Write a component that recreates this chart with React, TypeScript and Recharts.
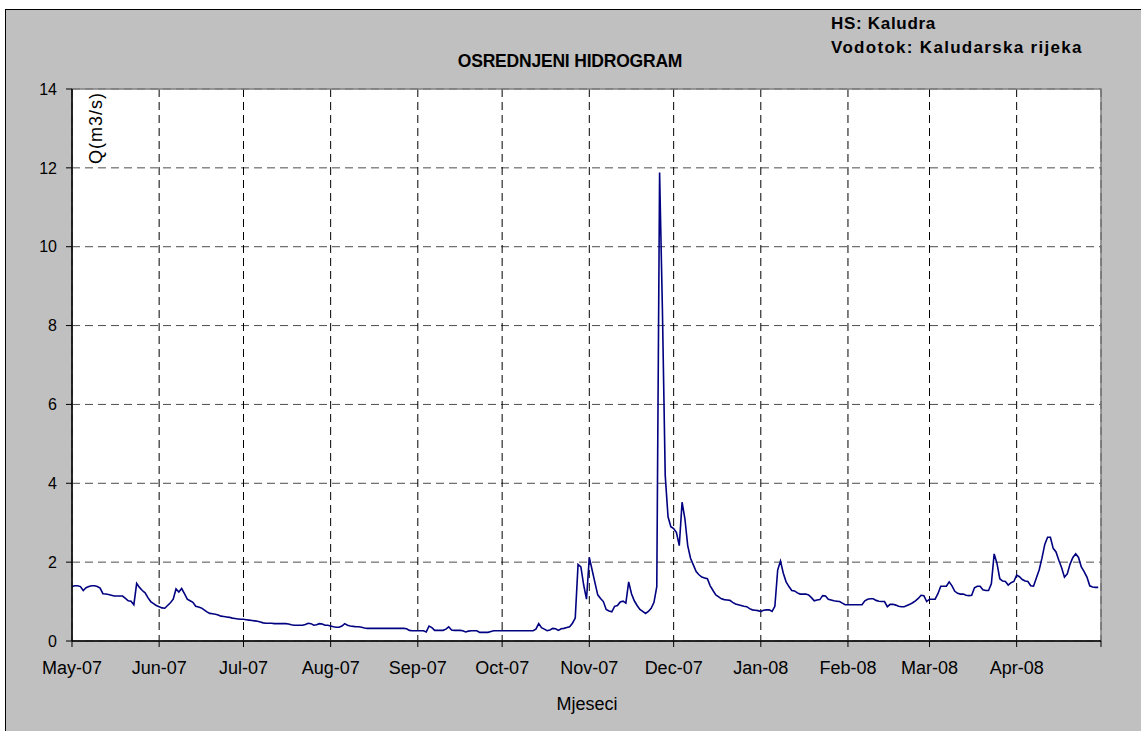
import { CartesianGrid, Line, LineChart, ReferenceArea, XAxis, YAxis } from "recharts";

const may07 = [
  1.38, 1.4, 1.4, 1.38, 1.28, 1.35, 1.38, 1.4, 1.4, 1.38,
  1.34, 1.2, 1.19, 1.18, 1.16, 1.14, 1.14, 1.14, 1.14, 1.08,
  1.02, 1.01, 0.92, 1.46, 1.36, 1.28, 1.22, 1.1, 1.0, 0.95,
  0.9,
];
const jun07 = [
  0.87, 0.84, 0.83, 0.9, 0.97, 1.06, 1.32, 1.24, 1.33, 1.2,
  1.06, 1.02, 0.98, 0.88, 0.86, 0.84, 0.79, 0.74, 0.7, 0.69,
  0.68, 0.66, 0.63, 0.62, 0.61, 0.6, 0.58, 0.57, 0.56, 0.55,
];
const jul07 = [
  0.55, 0.54, 0.53, 0.52, 0.51, 0.5, 0.48, 0.46, 0.45, 0.45,
  0.45, 0.44, 0.44, 0.44, 0.44, 0.44, 0.43, 0.41, 0.4, 0.4,
  0.4, 0.4, 0.42, 0.45, 0.44, 0.4, 0.41, 0.44, 0.43, 0.4,
  0.4,
];
const aug07 = [
  0.38, 0.36, 0.35, 0.35, 0.38, 0.44, 0.4, 0.38, 0.37, 0.36,
  0.36, 0.35, 0.33, 0.32, 0.32, 0.32, 0.32, 0.32, 0.32, 0.32,
  0.32, 0.32, 0.32, 0.32, 0.32, 0.32, 0.32, 0.31, 0.27, 0.26,
  0.26,
];
const sep07 = [
  0.26, 0.26, 0.26, 0.23, 0.38, 0.34, 0.27, 0.27, 0.27, 0.27,
  0.3, 0.36, 0.28, 0.27, 0.27, 0.27, 0.26, 0.23, 0.25, 0.26,
  0.26, 0.26, 0.22, 0.22, 0.22, 0.22, 0.24, 0.26, 0.26, 0.26,
];
const oct07 = [
  0.26, 0.26, 0.26, 0.26, 0.26, 0.26, 0.26, 0.26, 0.26, 0.26,
  0.26, 0.26, 0.3, 0.44, 0.34, 0.3, 0.26, 0.28, 0.32, 0.31,
  0.27, 0.31, 0.32, 0.34, 0.36, 0.45, 0.58, 1.94, 1.88, 1.42,
  1.06,
];
const nov07 = [
  2.12, 1.8, 1.48, 1.17, 1.08, 1.0, 0.8, 0.76, 0.74, 0.88,
  0.9, 0.99, 1.01, 0.96, 1.5, 1.2, 1.02, 0.9, 0.8, 0.75,
  0.7, 0.75, 0.83, 0.98, 1.38, 11.88, 8.4, 4.2, 3.15, 2.9,
];
const dec07 = [
  2.85, 2.75, 2.42, 3.52, 3.1, 2.42, 2.1, 1.93, 1.76, 1.68,
  1.62, 1.6, 1.58, 1.4, 1.28, 1.17, 1.12, 1.07, 1.05, 1.04,
  1.03, 0.98, 0.94, 0.92, 0.9, 0.88, 0.87, 0.82, 0.79, 0.78,
  0.77,
];
const jan08 = [
  0.75, 0.78, 0.79, 0.79, 0.75, 0.88, 1.8, 2.03, 1.72, 1.5,
  1.38, 1.28, 1.27, 1.22, 1.19, 1.19, 1.19, 1.17, 1.1, 1.02,
  1.04, 1.05, 1.15, 1.14, 1.06, 1.04, 1.02, 1.01, 1.0, 0.96,
  0.92,
];
const feb08 = [
  0.92, 0.92, 0.92, 0.92, 0.92, 0.92, 1.02, 1.06, 1.07, 1.07,
  1.03, 1.01, 1.0, 1.0, 0.87, 0.93, 0.93, 0.91, 0.88, 0.87,
  0.87, 0.9, 0.93, 0.97, 1.02, 1.08, 1.16, 1.15, 1.0,
];
const mar08 = [
  1.06, 1.06, 1.06, 1.2, 1.39, 1.39, 1.39, 1.5, 1.4, 1.26,
  1.21, 1.19, 1.19, 1.16, 1.15, 1.16, 1.35, 1.39, 1.39, 1.3,
  1.28, 1.28, 1.45, 2.21, 1.97, 1.58, 1.52, 1.51, 1.42, 1.48,
  1.51,
];
const apr08 = [
  1.67, 1.63, 1.56, 1.52, 1.51, 1.4, 1.39, 1.6, 1.8, 2.1,
  2.45, 2.63, 2.63, 2.35, 2.26, 2.05, 1.86, 1.62, 1.7, 1.95,
  2.12, 2.21, 2.12, 1.88, 1.76, 1.62, 1.4, 1.37, 1.36, 1.36,
];

const months = [may07, jun07, jul07, aug07, sep07, oct07, nov07, dec07, jan08, feb08, mar08, apr08];
const monthLabels = [
  "May-07", "Jun-07", "Jul-07", "Aug-07", "Sep-07", "Oct-07",
  "Nov-07", "Dec-07", "Jan-08", "Feb-08", "Mar-08", "Apr-08",
];
// day index of the first of each month (last one = 1 May 2008, axis end)
const monthStarts = [0, 31, 61, 92, 123, 153, 184, 214, 245, 276, 305, 336, 366];
const qTicks = [0, 2, 4, 6, 8, 10, 12, 14];

const data = months.flat().map((q, day) => ({ day, q }));

const FONT = "'Liberation Sans', Arial, sans-serif";

export default function App() {
  return (
    <div style={{ position: "absolute", left: 0, top: 0, width: 1141, height: 731, background: "#fff", overflow: "hidden" }}>
      <div
        style={{
          position: "absolute",
          left: 5,
          top: 9,
          width: 1140,
          height: 730,
          background: "#c0c0c0",
          borderTop: "1px solid #000",
          borderLeft: "1px solid #000",
        }}
      />
      <div style={{ position: "absolute", left: 0, top: 0 }}>
        <LineChart
          width={1141}
          height={731}
          data={data}
          margin={{ top: 89, right: 40, bottom: 60, left: 0 }}
          style={{ fontFamily: FONT }}
        >
          <CartesianGrid
            horizontal={true}
            vertical={false}
            stroke="#4d4d4d"
            strokeDasharray="8 5"
            fill="#fff"
            fillOpacity={1}
          />
          <CartesianGrid horizontal={false} vertical={true} stroke="#000" strokeDasharray="8 5" />
          <ReferenceArea x1={0} x2={366} y1={0} y2={14} fill="none" stroke="#808080" strokeWidth={1.5} />
          <XAxis
            type="number"
            dataKey="day"
            domain={[0, 366]}
            ticks={monthStarts}
            interval={0}
            height={30}
            axisLine={{ stroke: "#000", strokeWidth: 1.5 }}
            tickLine={{ stroke: "#000" }}
            tickSize={6}
            tickMargin={14}
            tick={{ fill: "#000", fontSize: 18, fontFamily: FONT }}
            tickFormatter={(v: number) => monthLabels[monthStarts.indexOf(v)] ?? ""}
          />
          <YAxis
            type="number"
            domain={[0, 14]}
            ticks={qTicks}
            interval={0}
            width={72}
            axisLine={{ stroke: "#000", strokeWidth: 1.5 }}
            tickLine={{ stroke: "#000" }}
            tickSize={6}
            tickMargin={9}
            tick={{ fill: "#000", fontSize: 16, fontFamily: FONT }}
          />
          <Line
            type="linear"
            dataKey="q"
            stroke="#000080"
            strokeWidth={1.6}
            dot={false}
            activeDot={false}
            isAnimationActive={false}
          />
        </LineChart>
      </div>
      <svg
        width={1141}
        height={731}
        style={{ position: "absolute", left: 0, top: 0, pointerEvents: "none", fontFamily: FONT }}
      >
        <text x={570} y={66.5} textAnchor="middle" fontSize={17.5} fontWeight="bold" letterSpacing={-0.2}>
          OSREDNJENI HIDROGRAM
        </text>
        <text x={831} y={29.3} fontSize={17} fontWeight="bold" letterSpacing={0.7}>
          HS: Kaludra
        </text>
        <text x={831} y={52.7} fontSize={17} fontWeight="bold" letterSpacing={1.3}>
          Vodotok: Kaludarska rijeka
        </text>
        <text x={587} y={710} textAnchor="middle" fontSize={18}>
          Mjeseci
        </text>
        <text transform="translate(102,128) rotate(-90)" textAnchor="middle" fontSize={18} letterSpacing={1}>
          Q(m3/s)
        </text>
      </svg>
    </div>
  );
}
